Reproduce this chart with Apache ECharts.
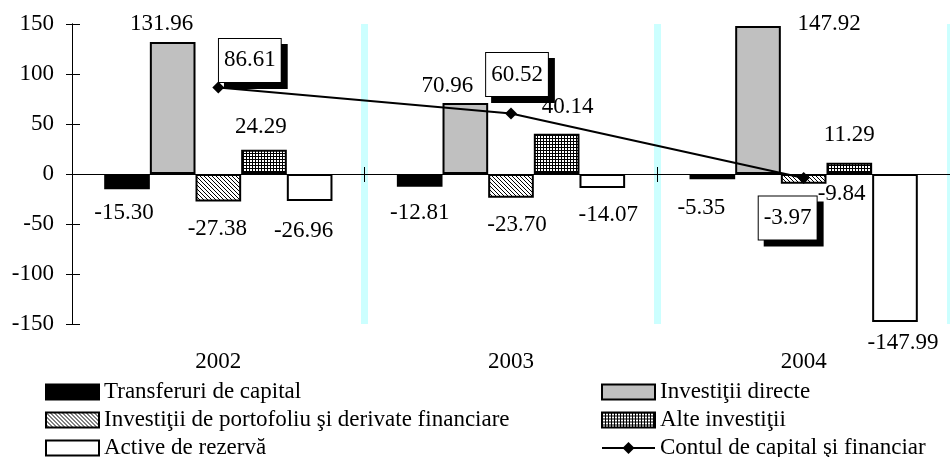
<!DOCTYPE html>
<html><head><meta charset="utf-8">
<script src="https://cdn.jsdelivr.net/npm/echarts@6/dist/echarts.min.js"></script>
<style>html,body{margin:0;padding:0;background:#fff}#c{width:950px;height:457px}</style>
</head><body><div id="c"></div>
<script>
// ---- data ----
const categories = ['2002', '2003', '2004'];
const transferuri = [-15.30, -12.81, -5.35];
const directe = [131.96, 70.96, 147.92];
const portofoliu = [-27.38, -23.70, -9.84];
const alte = [24.29, 40.14, 11.29];
const rezerva = [-26.96, -14.07, -147.99];
const contul = [86.61, 60.52, -3.97];
const yMin = -150, yMax = 150, yStep = 50;

const nTransfer = 'Transferuri de capital';
const nDirecte = 'Investiţii directe';
const nPortof = 'Investiţii de portofoliu şi derivate financiare';
const nAlte = 'Alte investiţii';
const nRezerva = 'Active de rezervă';
const nContul = 'Contul de capital şi financiar';

// ---- label placement tweaks: [dx, distance from bar end to label centre] ----
const shiftTransfer = [[-3, 24], [0, 26], [-11, 29]];
const shiftDirecte = [[-11, 18], [-18, 17], [71, 2]];
const shiftPortof = [[-1, 28], [6, 27], [38, 10]];
const shiftAlte = [[-3, 23], [11, 27], [0, 28]];
const shiftRezerva = [[-6, 30], [6, 27], [8, 21]];
const shiftContul = [[31.5, -27], [6, -39], [-16, 40]];

const FONT = "'Liberation Serif', 'Times New Roman', serif";
const FS = 23;

function makePattern(kind) {
  const c = document.createElement('canvas');
  const s = kind === 'diag' ? 4 : 3;
  c.width = s; c.height = s;
  const ctx = c.getContext('2d');
  ctx.fillStyle = '#fff'; ctx.fillRect(0, 0, s, s);
  ctx.fillStyle = '#000';
  if (kind === 'diag') {
    for (let i = 0; i < s; i++) ctx.fillRect(i, i, 1, 1);
  } else {
    ctx.fillRect(0, 0, s, 1);
    ctx.fillRect(0, 0, 1, s);
  }
  return { image: c, repeat: 'repeat' };
}

function barData(vals, shifts) {
  return vals.map((v, i) => {
    const pos = v >= 0 ? 'top' : 'bottom';
    const g = shifts[i][1] - FS / 2;
    return {
      value: v,
      label: { position: pos, distance: 0, offset: [shifts[i][0], v >= 0 ? -g : g] }
    };
  });
}

function barSeries(name, vals, shifts, fill) {
  return {
    name: name, type: 'bar', xAxisIndex: 0, yAxisIndex: 0,
    barGap: '0%', barCategoryGap: '22%',
    itemStyle: { color: fill, borderColor: '#000', borderWidth: 2 },
    label: {
      show: true, color: '#000', fontFamily: FONT, fontSize: FS,
      formatter: p => p.value.toFixed(2)
    },
    data: barData(vals, shifts),
    z: 2
  };
}

const chart = echarts.init(document.getElementById('c'), null, { renderer: 'canvas' });

const axisCommon = { type: 'category', data: categories, gridIndex: 0 };
const legendCommon = {
  orient: 'vertical', top: 378, height: 120, itemWidth: 53, itemHeight: 15, itemGap: 0,
  padding: 0,
  textStyle: { color: '#000', fontFamily: FONT, fontSize: FS, lineHeight: 28 }
};

chart.setOption({
  animation: false,
  backgroundColor: '#fff',
  textStyle: { fontFamily: FONT },
  grid: { left: 72, right: 0, top: 24, bottom: 133, containLabel: false },
  xAxis: [
    Object.assign({}, axisCommon, {
      position: 'bottom',
      axisLine: { show: false, onZero: false },
      axisTick: { show: false },
      axisLabel: { show: true, color: '#000', fontFamily: FONT, fontSize: FS, margin: 26 },
      splitLine: { show: true, showMinLine: false, showMaxLine: true,
        lineStyle: { color: '#CCFFFF', width: 7 } }
    }),
    Object.assign({}, axisCommon, {
      position: 'bottom',
      axisLine: { show: true, onZero: true, lineStyle: { color: '#000', width: 1 } },
      axisTick: { show: true, length: 8, lineStyle: { color: '#000', width: 1 } },
      axisLabel: { show: false },
      splitLine: { show: false }
    }),
    Object.assign({}, axisCommon, {
      position: 'bottom',
      axisLine: { show: true, onZero: true, lineStyle: { color: '#000', width: 1 } },
      axisTick: { show: true, inside: true, length: 7, lineStyle: { color: '#000', width: 1 } },
      axisLabel: { show: false },
      splitLine: { show: false }
    })
  ],
  yAxis: [
    {
      type: 'value', min: yMin, max: yMax, interval: yStep, position: 'left',
      axisLine: { show: true, lineStyle: { color: '#000', width: 1 } },
      axisTick: { show: true, length: 6, lineStyle: { color: '#000', width: 1 } },
      axisLabel: { color: '#000', fontFamily: FONT, fontSize: FS, margin: 18 },
      splitLine: { show: false }
    },
    {
      type: 'value', min: yMin, max: yMax, interval: yStep, position: 'left',
      axisLine: { show: true, lineStyle: { color: '#000', width: 1 } },
      axisTick: { show: true, inside: true, length: 8, lineStyle: { color: '#000', width: 1 } },
      axisLabel: { show: false },
      splitLine: { show: false }
    }
  ],
  legend: [
    Object.assign({}, legendCommon, {
      left: 45,
      data: [{ name: nTransfer, icon: 'rect' }, { name: nPortof, icon: 'rect' }, { name: nRezerva, icon: 'rect' }]
    }),
    Object.assign({}, legendCommon, {
      left: 601,
      data: [{ name: nDirecte, icon: 'rect' }, { name: nAlte, icon: 'rect' }, { name: nContul }]
    })
  ],
  series: [
    barSeries(nTransfer, transferuri, shiftTransfer, '#000000'),
    barSeries(nDirecte, directe, shiftDirecte, '#C0C0C0'),
    barSeries(nPortof, portofoliu, shiftPortof, makePattern('diag')),
    barSeries(nAlte, alte, shiftAlte, makePattern('grid')),
    barSeries(nRezerva, rezerva, shiftRezerva, '#FFFFFF'),
    {
      name: nContul, type: 'line', xAxisIndex: 0, yAxisIndex: 0, z: 5,
      symbol: 'diamond', symbolSize: 12,
      lineStyle: { color: '#000', width: 2 },
      itemStyle: { color: '#000' },
      label: {
        show: true, position: 'inside', color: '#000', fontFamily: FONT, fontSize: FS,
        backgroundColor: '#fff', borderColor: '#000', borderWidth: 1,
        padding: [10, 5, 10, 5],
        shadowColor: '#000', shadowBlur: 0, shadowOffsetX: 6, shadowOffsetY: 6,
        formatter: p => p.value.toFixed(2)
      },
      data: contul.map((v, i) => ({ value: v, label: { offset: shiftContul[i] } }))
    }
  ]
});
</script>
</body></html>
